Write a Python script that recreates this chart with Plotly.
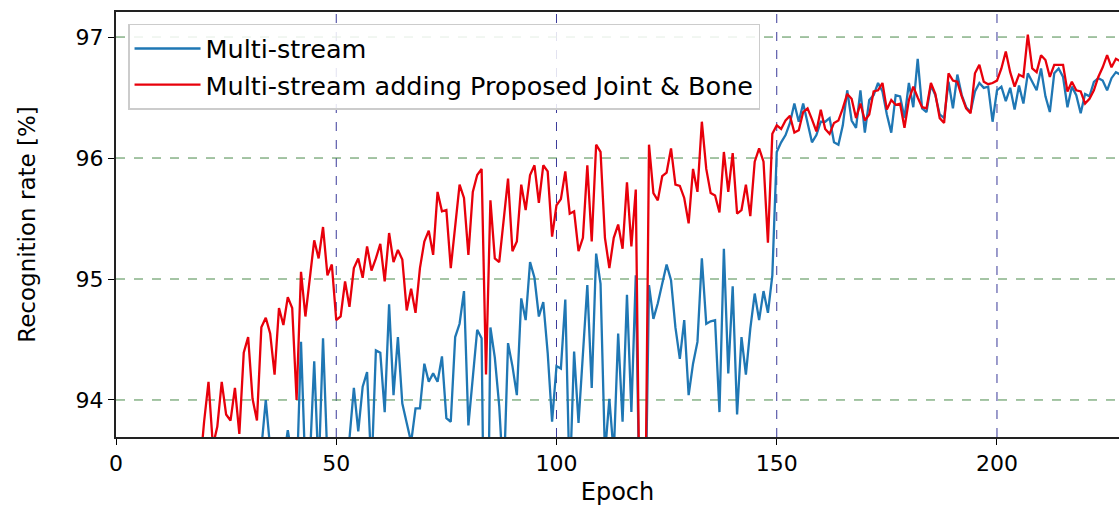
import plotly.graph_objects as go

epochs = list(range(18, 229))

multi_stream = [
    # 18-27
    91.9, 92.2, 92.0, 92.5, 92.3, 92.6, 92.4, 92.9, 92.7, 93.0,
    # 28-37
    92.8, 93.1, 92.9, 93.3, 93.0, 93.6, 94.00, 93.6, 93.2, 93.4,
    # 38-47
    93.5, 93.75, 93.5, 93.3, 94.48, 93.4, 93.5, 94.32, 93.4, 94.51,
    # 48-57
    93.5, 93.3, 93.4, 93.2, 93.4, 93.68, 94.10, 93.74, 94.11, 94.23,
    # 58-67
    93.4, 94.41, 94.39, 93.90, 94.79, 94.04, 94.52, 93.97, 93.81, 93.65,
    # 68-77
    93.93, 93.93, 94.30, 94.15, 94.22, 94.15, 94.36, 93.85, 93.82, 94.52,
    # 78-87
    94.63, 94.90, 93.79, 94.22, 94.58, 94.51, 91.5, 94.60, 94.35, 93.95,
    # 88-97
    93.3, 94.47, 94.28, 94.04, 94.84, 94.66, 95.14, 95.01, 94.69, 94.81,
    # 98-107
    94.39, 93.82, 94.28, 94.26, 94.83, 93.3, 94.40, 93.81, 94.35, 94.95,
    # 108-117
    94.10, 95.21, 94.96, 93.55, 94.01, 93.55, 94.55, 93.82, 94.87, 93.90,
    # 118-127
    95.03, 92.8, 92.6, 94.95, 94.67, 94.80, 94.96, 95.12, 94.99, 94.60,
    # 128-137
    94.34, 94.66, 94.04, 94.30, 94.48, 95.17, 94.63, 94.65, 94.66, 93.90,
    # 138-147
    95.25, 94.22, 94.94, 93.88, 94.52, 94.21, 94.59, 94.88, 94.66, 94.90,
    # 148-157
    94.72, 95.03, 96.05, 96.13, 96.19, 96.29, 96.45, 96.30, 96.45, 96.30,
    # 158-167
    96.13, 96.19, 96.30, 96.30, 96.33, 96.13, 96.11, 96.27, 96.56, 96.31,
    # 168-177
    96.25, 96.56, 96.21, 96.48, 96.52, 96.62, 96.55, 96.36, 96.21, 96.52,
    # 178-187
    96.51, 96.33, 96.62, 96.42, 96.82, 96.41, 96.38, 96.60, 96.52, 96.36,
    # 188-197
    96.33, 96.63, 96.41, 96.69, 96.52, 96.42, 96.38, 96.55, 96.62, 96.58,
    # 198-207
    96.59, 96.30, 96.56, 96.59, 96.47, 96.58, 96.40, 96.60, 96.45, 96.70,
    # 208-217
    96.63, 96.56, 96.74, 96.51, 96.38, 96.70, 96.74, 96.67, 96.42, 96.59,
    # 218-228
    96.52, 96.37, 96.53, 96.51, 96.63, 96.66, 96.64, 96.56, 96.66, 96.71, 96.69,
]

joint_bone = [
    # 18-27
    93.0, 93.42, 93.82, 94.15, 93.62, 93.78, 94.15, 93.88, 93.83, 94.10,
    # 28-37
    93.72, 94.39, 94.52, 94.01, 93.83, 94.60, 94.68, 94.55, 94.21, 94.76,
    # 38-47
    94.62, 94.85, 94.76, 94.00, 95.06, 94.69, 95.00, 95.32, 95.17, 95.43,
    # 48-57
    95.03, 95.12, 94.66, 94.69, 94.98, 94.77, 95.09, 95.17, 95.01, 95.27,
    # 58-67
    95.07, 95.17, 95.29, 94.98, 95.38, 95.14, 95.24, 95.16, 94.74, 94.92,
    # 68-77
    94.72, 95.09, 95.31, 95.40, 95.20, 95.72, 95.56, 95.57, 95.09, 95.45,
    # 78-87
    95.78, 95.67, 95.20, 95.72, 95.86, 95.91, 94.21, 95.65, 95.17, 95.14,
    # 88-97
    95.48, 95.83, 95.23, 95.31, 95.78, 95.57, 95.86, 95.94, 95.63, 95.94,
    # 98-107
    95.89, 95.35, 95.61, 95.66, 95.89, 95.54, 95.56, 95.23, 95.34, 95.94,
    # 108-117
    95.31, 96.11, 96.05, 95.34, 95.09, 95.34, 95.45, 95.25, 95.80, 95.27,
    # 118-127
    95.74, 92.6, 92.4, 96.11, 95.71, 95.65, 95.85, 95.88, 96.08, 95.78,
    # 128-137
    95.77, 95.67, 95.46, 95.91, 95.72, 96.30, 95.91, 95.71, 95.69, 95.55,
    # 138-147
    96.05, 95.72, 96.04, 95.54, 95.57, 95.78, 95.52, 95.97, 96.08, 95.97,
    # 148-157
    95.30, 96.20, 96.27, 96.24, 96.31, 96.35, 96.21, 96.23, 96.38, 96.41,
    # 158-167
    96.32, 96.22, 96.40, 96.24, 96.20, 96.29, 96.31, 96.41, 96.53, 96.49,
    # 168-177
    96.33, 96.45, 96.31, 96.36, 96.55, 96.56, 96.62, 96.40, 96.48, 96.44,
    # 178-187
    96.45, 96.25, 96.48, 96.59, 96.50, 96.42, 96.41, 96.62, 96.53, 96.33,
    # 188-197
    96.29, 96.70, 96.64, 96.63, 96.51, 96.41, 96.37, 96.70, 96.77, 96.63,
    # 198-207
    96.61, 96.62, 96.64, 96.74, 96.88, 96.71, 96.59, 96.69, 96.67, 97.02,
    # 208-217
    96.74, 96.71, 96.85, 96.81, 96.67, 96.77, 96.77, 96.77, 96.55, 96.63,
    # 218-228
    96.56, 96.55, 96.45, 96.49, 96.56, 96.67, 96.75, 96.85, 96.75, 96.82, 96.80,
]

series_names = ["Multi-stream", "Multi-stream adding Proposed Joint & Bone"]
x_ticks = [0, 50, 100, 150, 200]
y_ticks = [94, 95, 96, 97]

FONT = "DejaVu Sans"

fig = go.Figure()
fig.add_trace(go.Scatter(x=epochs, y=multi_stream, mode="lines", name=series_names[0],
                         line=dict(color="#1f77b4", width=2.3), legendgroup="a"))
fig.add_trace(go.Scatter(x=epochs, y=joint_bone, mode="lines", name=series_names[1],
                         line=dict(color="#e8000b", width=2.3), legendgroup="b"))

# dashed grid lines (vertical navy, horizontal green)
for xv in x_ticks[1:]:
    fig.add_shape(type="line", xref="x", yref="paper", x0=xv, x1=xv, y0=0, y1=1,
                  line=dict(color="#3a3a9a", width=1, dash="dash"), layer="below")
for yv in y_ticks:
    fig.add_shape(type="line", xref="paper", yref="y", x0=0, x1=1, y0=yv, y1=yv,
                  line=dict(color="#4a8a4a", width=1, dash="dash"), layer="below")

fig.update_layout(
    width=1119, height=506,
    margin=dict(l=116, r=0, t=12, b=69),
    paper_bgcolor="white", plot_bgcolor="white",
    font=dict(family=FONT, size=22, color="black"),
    showlegend=True,
    legend=dict(
        x=0.012, y=0.972, xanchor="left", yanchor="top",
        bgcolor="rgba(255,255,255,0.85)", bordercolor="#cccccc", borderwidth=1.5,
        font=dict(family=FONT, size=25.5, color="black"),
        tracegroupgap=0, itemwidth=66,
    ),
)
fig.update_xaxes(
    range=[0, 227.7], tickvals=x_ticks, ticks="outside", ticklen=6, tickwidth=1.2,
    tickcolor="black", showgrid=False, zeroline=False, showline=True, linecolor="#222222",
    linewidth=2, mirror=True,
    title=dict(text="Epoch", font=dict(family=FONT, size=24), standoff=8),
    tickfont=dict(family=FONT, size=22),
)
fig.update_yaxes(
    range=[93.694, 97.207], tickvals=y_ticks, ticks="outside", ticklen=6, tickwidth=1.2,
    tickcolor="black", showgrid=False, zeroline=False, showline=True, linecolor="#222222",
    linewidth=2,
    title=dict(text="Recognition rate [%]", font=dict(family=FONT, size=23), standoff=34),
    tickfont=dict(family=FONT, size=22),
)

fig.write_html("out.html")
